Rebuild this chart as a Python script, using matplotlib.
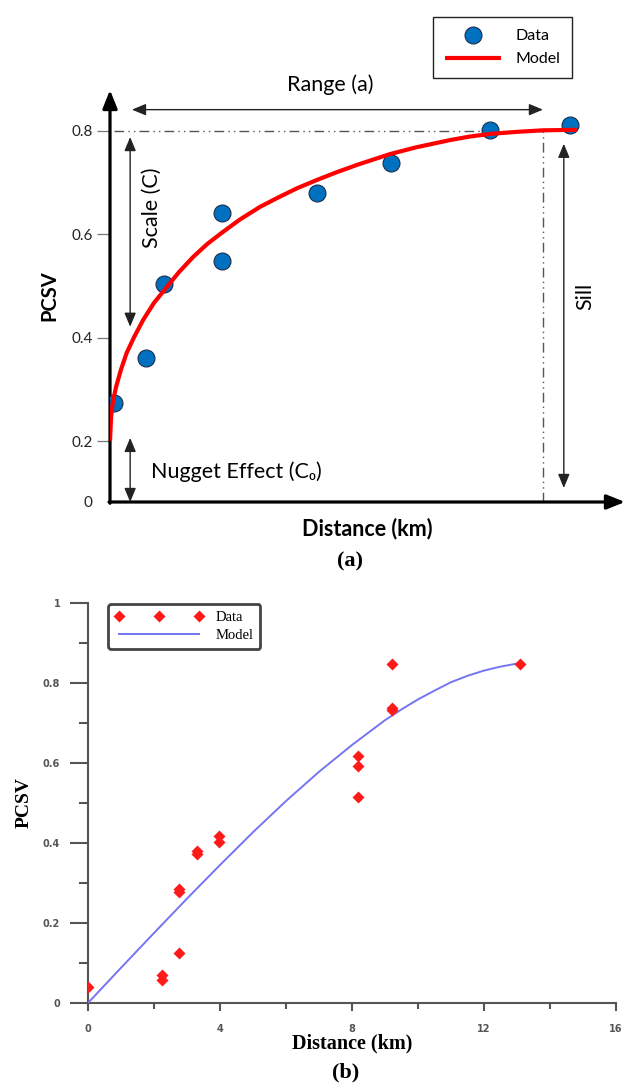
import numpy as np
import matplotlib
matplotlib.use("Agg")
import matplotlib.pyplot as plt
from matplotlib.ticker import NullLocator

# > Data, panel (a): experimental variogram and fitted model
a_dist = [0.11, 1.0, 1.5, 3.11, 3.11, 5.75, 7.8, 10.56, 12.78]
a_pcsv = [0.274, 0.361, 0.504, 0.548, 0.641, 0.680, 0.738, 0.802, 0.812]
a_model_dist = [0, 0.03, 0.075, 0.17, 0.30, 0.46, 0.67, 0.92, 1.22, 1.58,
                1.92, 2.31, 2.7, 3.11, 3.6, 4.17, 4.7, 5.2, 5.75, 6.3,
                6.9, 7.78, 8.5, 9.44, 10.0, 10.56, 11.3, 12.03, 12.97]
a_model_pcsv = [0.200, 0.246, 0.274, 0.305, 0.337, 0.370, 0.401, 0.434, 0.467, 0.498,
                0.527, 0.556, 0.581, 0.603, 0.628, 0.653, 0.672, 0.689, 0.705, 0.720,
                0.735, 0.755, 0.768, 0.782, 0.789, 0.794, 0.798, 0.801, 0.802]
a_yticks = [0, 0.2, 0.4, 0.6, 0.8]
a_yticklabels = ["0", "0.2", "0.4", "0.6", "0.8"]
NUGGET = 0.2
SILL = 0.8
RANGE_A = 12.03
# <

# > Data, panel (b)
b_dist = [0.0, 2.24, 2.24, 2.76, 2.76, 2.76, 3.3, 3.3, 3.97, 3.97,
          8.18, 8.18, 8.18, 9.22, 9.22, 9.22, 13.1]
b_pcsv = [0.04, 0.07, 0.058, 0.125, 0.278, 0.285, 0.373, 0.38, 0.403, 0.418,
          0.515, 0.593, 0.617, 0.733, 0.738, 0.847, 0.848]
b_model_dist = [0, 1, 2, 3, 4, 5, 6, 7, 8, 9, 9.5, 10, 10.5, 11, 11.5, 12, 12.5, 13.1]
b_model_pcsv = [0, 0.088, 0.175, 0.261, 0.345, 0.427, 0.505, 0.578, 0.645,
                0.707, 0.734, 0.759, 0.781, 0.802, 0.818, 0.831, 0.841, 0.85]
b_xticks = [0, 4, 8, 12, 16]
b_yticks = [0, 0.2, 0.4, 0.6, 0.8, 1]
b_yticklabels = ["0", "0.2", "0.4", "0.6", "0.8", "1"]
# <

W, H, DPI = 627, 1089, 100
SANS = ["Lato", "DejaVu Sans"]
SERIF = ["Liberation Serif", "DejaVu Serif"]
plt.rcParams["font.family"] = SANS

fig = plt.figure(figsize=(W / DPI, H / DPI), dpi=DPI)


def px_axes(left, top, right, bottom):
    return fig.add_axes([left / W, 1 - bottom / H, (right - left) / W, (bottom - top) / H])


# y axis of (a) is squeezed below the nugget
SQUEEZE = 0.59


def _fwd(v):
    v = np.asarray(v, dtype=float)
    return np.where(v >= NUGGET, v, NUGGET - (NUGGET - v) * SQUEEZE)


def _inv(u):
    u = np.asarray(u, dtype=float)
    return np.where(u >= NUGGET, u, NUGGET - (NUGGET - u) / SQUEEZE)


# ---------------- panel (a) ----------------
ax = px_axes(110, 90, 625, 502)
ax.set_yscale("function", functions=(_fwd, _inv))
ax.set_xlim(0, 14.31)
ax.set_ylim(0, 0.879)
for s in ax.spines.values():
    s.set_visible(False)
ax.set_xticks([])
ax.set_yticks(a_yticks)
ax.set_yticklabels(a_yticklabels)
ax.yaxis.set_minor_locator(NullLocator())
ax.tick_params(axis="y", length=9.4, width=0.9, color="#777", pad=3,
               labelsize=11, labelcolor="#222")
ax.yaxis.get_major_ticks()[0].tick1line.set_visible(False)

# axis arrows
axis_arrow = dict(arrowstyle="-|>,head_length=0.55,head_width=0.22", lw=2.3,
                  color="black", shrinkA=0, shrinkB=0, mutation_scale=20)
ax.annotate("", xy=(0, 1), xytext=(0, -0.003), xycoords="axes fraction",
            textcoords="axes fraction", arrowprops=axis_arrow, annotation_clip=False)
ax.annotate("", xy=(1, 0), xytext=(-0.002, 0), xycoords="axes fraction",
            textcoords="axes fraction", arrowprops=axis_arrow, annotation_clip=False)

dots, = ax.plot(a_dist, a_pcsv, "o", ms=12.2, mfc="#0070C0", mec="#1b2f4e",
                mew=0.8, zorder=4, label="Data")
model, = ax.plot(a_model_dist, a_model_pcsv, color="#FF0000", lw=3, zorder=5,
                 solid_capstyle="butt", solid_joinstyle="round", label="Model")

# sill / range guides
guide = dict(color="#555", lw=1, dashes=(7, 3, 1, 3, 1, 3))
ax.plot([0.1, RANGE_A], [SILL, SILL], **guide)
ax.plot([RANGE_A, RANGE_A], [0, SILL], **guide)

dbl = dict(arrowstyle="<|-|>,head_length=0.6,head_width=0.25", lw=1,
           color="#222", mutation_scale=14, shrinkA=0, shrinkB=0)
ax.annotate("", xy=(RANGE_A, 0.841), xytext=(0.61, 0.841), arrowprops=dbl)
ax.annotate("", xy=(0.56, 0.788), xytext=(0.56, 0.421), arrowprops=dbl)
ax.annotate("", xy=(0.56, 0.206), xytext=(0.56, 0.0), arrowprops=dbl)
ax.annotate("", xy=(12.61, 0.775), xytext=(12.61, 0.046), arrowprops=dbl)

ax.text(6.11, 0.889, "Range (a)", ha="center", va="center", fontsize=15.5)
ax.text(1.17, 0.651, "Scale (C)", ha="center", va="center", rotation=90, fontsize=15.5)
ax.text(1.14, 0.100, "Nugget Effect (C\u2080)", ha="left", va="center", fontsize=15.5)
ax.text(13.22, 0.479, "Sill", ha="center", va="center", rotation=90, fontsize=15.5)

ax.set_xlabel("Distance (km)", fontsize=15.5, fontweight="bold", labelpad=11)
ax.set_ylabel("PCSV", fontsize=14.5, fontweight="bold", labelpad=9)

leg = ax.legend(handles=[dots, model], loc="upper right",
                bbox_to_anchor=(572 / W, 1 - 17 / H), bbox_transform=fig.transFigure,
                borderaxespad=0, fontsize=11.5, numpoints=1, handlelength=3.5,
                handletextpad=0.9, borderpad=0.75, labelspacing=0.55,
                fancybox=False, framealpha=1)
leg.get_frame().set_edgecolor("#222")
leg.get_frame().set_linewidth(1)

fig.text(350 / W, 1 - 561 / H, "(a)", ha="center", va="center", fontsize=16,
         fontweight="bold", family=SERIF)

# ---------------- panel (b) ----------------
AX_GREY = "#555"
bx = px_axes(88, 603, 616, 1003)
bx.set_xlim(0, 16)
bx.set_ylim(0, 1)
for side in ["top", "right"]:
    bx.spines[side].set_visible(False)
for side in ["left", "bottom"]:
    bx.spines[side].set_color(AX_GREY)
    bx.spines[side].set_linewidth(1.5)
bx.set_xticks(b_xticks)
bx.set_xticks([2, 6, 10, 14], minor=True)
bx.set_yticks(b_yticks)
bx.set_yticklabels(b_yticklabels)
bx.set_yticks([0.1, 0.3, 0.5, 0.7, 0.9], minor=True)
bx.tick_params(axis="y", which="major", length=13, width=1.5, color=AX_GREY, pad=7)
bx.tick_params(axis="y", which="minor", length=6.5, width=1.5, color=AX_GREY)
bx.tick_params(axis="x", which="major", length=5.8, width=1.5, color=AX_GREY, pad=9)
bx.tick_params(axis="x", which="minor", length=4, width=1.5, color=AX_GREY)
for lab in bx.get_xticklabels() + bx.get_yticklabels():
    lab.set_family("DejaVu Sans")
    lab.set_fontsize(7)
    lab.set_fontweight("bold")
    lab.set_color(AX_GREY)

bdots, = bx.plot(b_dist, b_pcsv, "D", ms=6, color="#FF1A1A", mec="none",
                 zorder=4, label="Data")
bmodel, = bx.plot(b_model_dist, b_model_pcsv, color="#7575f3", lw=1.4,
                  zorder=3, solid_joinstyle="round", label="Model")

bx.set_xlabel("Distance (km)", fontsize=14.5, fontweight="bold", family=SERIF, labelpad=0)
bx.set_ylabel("PCSV", fontsize=14, fontweight="bold", family=SERIF, labelpad=7)

bleg = bx.legend(handles=[bdots, bmodel], loc="upper left",
                 bbox_to_anchor=(108 / W, 1 - 604 / H), bbox_transform=fig.transFigure,
                 borderaxespad=0, numpoints=3, handlelength=6.1, handletextpad=0.85,
                 borderpad=0.45, labelspacing=0.37, fancybox=True, framealpha=1,
                 prop={"family": SERIF, "size": 10.5})
bleg.get_frame().set_edgecolor("#444")
bleg.get_frame().set_linewidth(2)

fig.text(346 / W, 1 - 1072 / H, "(b)", ha="center", va="center", fontsize=16,
         fontweight="bold", family=SERIF)

fig.savefig("out.png", dpi=DPI)
